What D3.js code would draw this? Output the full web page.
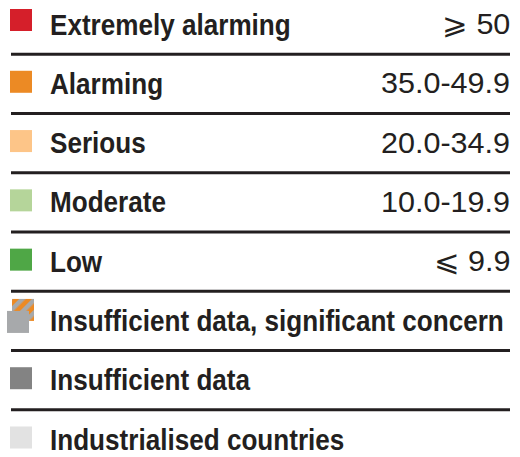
<!DOCTYPE html>
<html>
<head>
<meta charset="utf-8">
<script src="https://cdn.jsdelivr.net/npm/d3@7/dist/d3.min.js"></script>
<style>
  html, body { margin: 0; padding: 0; background: #fff; }
  svg { display: block; }
  text { font-family: "Liberation Sans", Arial, sans-serif; }
</style>
</head>
<body>
<svg id="chart" width="520" height="457"></svg>
<script>
const categories = [
  "Extremely alarming",
  "Alarming",
  "Serious",
  "Moderate",
  "Low",
  "Insufficient data, significant concern",
  "Insufficient data",
  "Industrialised countries"
];
const ranges = ["\u2A7E 50", "35.0-49.9", "20.0-34.9", "10.0-19.9", "\u2A7D 9.9", "", "", ""];
const colors = ["#d51f2a", "#ec8a24", "#fdc588", "#b5d59a", "#4fa746", "#a7a9ab", "#838383", "#e2e2e2"];
const types = ["solid", "solid", "solid", "solid", "solid", "hatched", "solid", "solid"];

const svg = d3.select("#chart");

const defs = svg.append("defs");
const pat = defs.append("pattern")
  .attr("id", "hatch")
  .attr("patternUnits", "userSpaceOnUse")
  .attr("width", 9).attr("height", 9)
  .attr("patternTransform", "rotate(45)");
pat.append("rect").attr("width", 9).attr("height", 9).attr("fill", "#ec8a24");
pat.append("rect").attr("width", 4.5).attr("height", 9).attr("fill", "#a7a9ab");

const y = d3.scalePoint().domain(categories).range([20, 435]);
const step = y.step();

const rows = categories.map((c, i) => ({ cat: c, range: ranges[i], color: colors[i], type: types[i], i }));

svg.selectAll("line.sep")
  .data(rows.slice(1))
  .join("line")
  .attr("class", "sep")
  .attr("x1", 11).attr("x2", 510)
  .attr("y1", d => y(d.cat) - step / 2 + 4.5)
  .attr("y2", d => y(d.cat) - step / 2 + 4.5)
  .attr("stroke", "#231f20")
  .attr("stroke-width", 3);

const g = svg.selectAll("g.row").data(rows).join("g").attr("class", "row");

const sq = 22;
g.filter(d => d.type === "solid")
  .append("rect")
  .attr("x", 10)
  .attr("y", d => y(d.cat) - (d.i === 0 ? 11 : 8.5))
  .attr("width", sq).attr("height", sq)
  .attr("fill", d => d.color);

const hg = g.filter(d => d.type === "hatched");
hg.append("rect")
  .attr("x", 12)
  .attr("y", d => y(d.cat) - 17.5)
  .attr("width", sq).attr("height", sq)
  .attr("fill", "url(#hatch)");
hg.append("rect")
  .attr("x", 7)
  .attr("y", d => y(d.cat) - 5.5)
  .attr("width", sq).attr("height", sq)
  .attr("fill", d => d.color);

// labels (bold, slightly condensed)
const sx = 0.9;
g.append("text")
  .attr("transform", d => `translate(50,${y(d.cat) + 14.5}) scale(${sx},1)`)
  .attr("font-weight", "bold")
  .attr("font-size", 29)
  .attr("fill", "#231f20")
  .text(d => d.cat);

// range values, right-aligned at x=510
const vals = g.filter(d => d.range).append("text")
  .attr("font-size", 29)
  .attr("fill", "#231f20")
  .text(d => d.range);
let refW = 0;
vals.each(function(d) { if (d.i === 1) refW = this.getBBox().width; });
const sv = refW > 0 ? 129 / refW : 0.93;
vals.each(function(d) {
  const b = this.getBBox();
  const right = b.x + b.width;
  d3.select(this).attr("transform", `translate(${510 - right * sv},${y(d.cat) + 14}) scale(${sv},1)`);
});
</script>
</body>
</html>
